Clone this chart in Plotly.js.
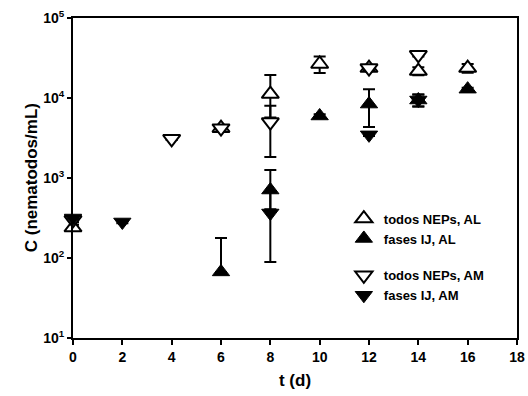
<!DOCTYPE html>
<html>
<head>
<meta charset="utf-8">
<script src="https://cdn.plot.ly/plotly-3.0.1.min.js"></script>
<style>html,body{margin:0;padding:0;background:#fff;}#chart{width:528px;height:396px;}</style>
</head>
<body>
<div id="chart"></div>
<script>
// Data (C in nematodos/mL vs t in days)
const todosAL_x = [0, 6, 8, 10, 12, 14, 16];
const todosAL_y = [240, 4200, 11200, 26600, 23700, 21700, 23700];
const todosAL_ep = [20, 400, 8200, 6500, 2000, 2500, 3000];
const todosAL_em = [20, 400, 5500, 6000, 2000, 2500, 3000];

const fasesAL_x = [6, 8, 10, 12, 14, 16];
const fasesAL_y = [67, 708, 5960, 8400, 9440, 12900];
const fasesAL_ep = [111, 550, 300, 4500, 1600, 500];
const fasesAL_em = [0, 300, 300, 4050, 1600, 500];

const todosAM_x = [0, 4, 6, 8, 12, 14];
const todosAM_y = [300, 3090, 4200, 5000, 23700, 34600];
const todosAM_ep = [20, 100, 400, 3000, 2000, 1500];
const todosAM_em = [20, 100, 400, 3170, 2000, 1500];

const fasesAM_x = [0, 2, 8, 12, 14];
const fasesAM_y = [316, 282, 365, 3460, 9440];
const fasesAM_ep = [10, 10, 300, 100, 1600];
const fasesAM_em = [10, 10, 276, 100, 1600];

const yTickVals = [10, 100, 1000, 10000, 100000];
const yTickText = ['10<sup>1</sup>', '10<sup>2</sup>', '10<sup>3</sup>', '10<sup>4</sup>', '10<sup>5</sup>'];
const xTickVals = [0, 2, 4, 6, 8, 10, 12, 14, 16, 18];

const names = ['todos NEPs, AL', 'fases IJ, AL', 'todos NEPs, AM', 'fases IJ, AM'];
const xTitle = 't (d)';
const yTitle = 'C (nematodos/mL)';

function errs(p, m) {
  return {type: 'data', symmetric: false, array: p, arrayminus: m,
          color: '#000', thickness: 2, width: 6};
}

const openMarker = (sym) => ({symbol: sym, size: 15, color: '#fff', line: {color: '#000', width: 2}});
const fillMarker = (sym) => ({symbol: sym, size: 15, color: '#000', line: {color: '#000', width: 1}});

const traces = [
  {x: todosAL_x, y: todosAL_y, name: names[0], legendgroup: 'AL', mode: 'markers', type: 'scatter',
   marker: openMarker('triangle-up'), error_y: errs(todosAL_ep, todosAL_em), cliponaxis: false},
  {x: fasesAL_x, y: fasesAL_y, name: names[1], legendgroup: 'AL', mode: 'markers', type: 'scatter',
   marker: fillMarker('triangle-up'), error_y: errs(fasesAL_ep, fasesAL_em), cliponaxis: false},
  {x: todosAM_x, y: todosAM_y, name: names[2], legendgroup: 'AM', mode: 'markers', type: 'scatter',
   marker: openMarker('triangle-down'), error_y: errs(todosAM_ep, todosAM_em), cliponaxis: false},
  {x: fasesAM_x, y: fasesAM_y, name: names[3], legendgroup: 'AM', mode: 'markers', type: 'scatter',
   marker: fillMarker('triangle-down'), error_y: errs(fasesAM_ep, fasesAM_em), cliponaxis: false}
];

const FAM = 'Liberation Sans, Arial, sans-serif';
const tickFont = {family: FAM, size: 14, color: '#000', weight: 'bold'};
const titleFont = {family: FAM, size: 17, color: '#000', weight: 'bold'};

const layout = {
  width: 528, height: 396,
  margin: {l: 73, r: 11, t: 18, b: 58},
  paper_bgcolor: '#fff', plot_bgcolor: '#fff',
  showlegend: true,
  legend: {x: 0.61, y: 0.42, xanchor: 'left', yanchor: 'top', traceorder: 'grouped',
           tracegroupgap: 17, bgcolor: 'rgba(0,0,0,0)',
           font: {family: FAM, size: 13, color: '#000', weight: 'bold'}},
  xaxis: {range: [0, 18], tickvals: xTickVals, ticks: 'outside', ticklen: 5, tickwidth: 2,
          tickcolor: '#000', showline: true, linewidth: 2, linecolor: '#000', mirror: true,
          showgrid: false, zeroline: false, tickfont: tickFont,
          title: {text: xTitle, font: titleFont, standoff: 10}},
  yaxis: {type: 'log', range: [1, 5], tickvals: yTickVals, ticktext: yTickText,
          ticks: 'outside', ticklen: 4, tickwidth: 2, tickcolor: '#000',
          showline: true, linewidth: 2, linecolor: '#000', mirror: true,
          showgrid: false, zeroline: false, tickfont: tickFont},
  annotations: [{text: yTitle, xref: 'paper', yref: 'paper', x: -0.094, y: 0.5,
                 xanchor: 'center', yanchor: 'middle', textangle: -90, showarrow: false,
                 font: titleFont}]
};

Plotly.newPlot('chart', traces, layout, {staticPlot: true, displayModeBar: false});
</script>
</body>
</html>
